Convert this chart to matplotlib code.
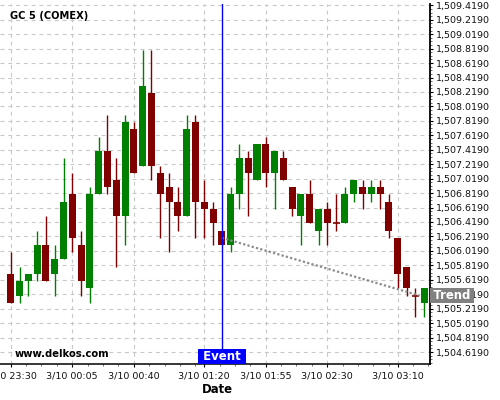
import matplotlib
matplotlib.use("Agg")
import matplotlib.pyplot as plt
import numpy as np
from matplotlib.ticker import FixedLocator, NullFormatter

# ---- data (GC 5-minute candles) ----
opens  = [1505.7, 1505.4, 1505.6, 1505.7, 1506.1, 1505.7, 1505.9, 1506.8, 1506.1, 1505.5,
          1506.8, 1507.4, 1507.0, 1506.5, 1507.7, 1507.2, 1508.2, 1507.1, 1506.9, 1506.7,
          1506.5, 1507.8, 1506.7, 1506.6, 1506.3, 1506.1, 1506.8, 1507.3, 1507.0, 1507.5,
          1507.1, 1507.3, 1506.9, 1506.5, 1506.8, 1506.3, 1506.6, 1506.4, 1506.4, 1506.8,
          1506.9, 1506.8, 1506.9, 1506.7, 1506.2, 1505.8, 1505.4, 1505.3]
highs  = [1506.0, 1505.8, 1505.7, 1506.3, 1506.5, 1506.1, 1507.3, 1507.1, 1506.3, 1506.9,
          1507.6, 1507.9, 1507.3, 1507.9, 1507.8, 1508.8, 1508.8, 1507.2, 1507.1, 1506.9,
          1507.9, 1507.9, 1507.0, 1506.7, 1506.3, 1506.9, 1507.5, 1507.4, 1507.5, 1507.6,
          1507.4, 1507.4, 1506.9, 1506.8, 1507.0, 1506.6, 1506.7, 1506.8, 1506.9, 1507.0,
          1507.0, 1507.0, 1507.0, 1506.8, 1506.2, 1505.8, 1505.5, 1505.5]
lows   = [1505.3, 1505.3, 1505.4, 1505.6, 1505.6, 1505.4, 1505.9, 1506.0, 1505.4, 1505.3,
          1506.8, 1506.8, 1505.8, 1506.1, 1507.1, 1507.2, 1507.0, 1506.2, 1506.0, 1506.3,
          1506.5, 1506.2, 1506.2, 1506.1, 1506.1, 1506.0, 1506.6, 1506.5, 1507.0, 1506.9,
          1506.6, 1507.0, 1506.5, 1506.1, 1506.4, 1506.1, 1506.1, 1506.3, 1506.4, 1506.7,
          1506.6, 1506.7, 1506.6, 1506.2, 1505.5, 1505.4, 1505.1, 1505.1]
closes = [1505.3, 1505.6, 1505.7, 1506.1, 1505.6, 1505.9, 1506.7, 1506.2, 1505.6, 1506.8,
          1507.4, 1506.9, 1506.5, 1507.8, 1507.1, 1508.3, 1507.2, 1506.8, 1506.7, 1506.5,
          1507.7, 1506.7, 1506.6, 1506.4, 1506.1, 1506.8, 1507.3, 1507.1, 1507.5, 1507.1,
          1507.4, 1507.0, 1506.6, 1506.8, 1506.4, 1506.6, 1506.4, 1506.4, 1506.8, 1507.0,
          1506.8, 1506.9, 1506.8, 1506.3, 1505.7, 1505.5, 1505.4, 1505.5]

x_tick_labels = ["3/10 23:30", "3/10 00:05", "3/10 00:40", "3/10 01:20",
                 "3/10 01:55", "3/10 02:30", "3/10 03:10"]
x_tick_minutes = [0, 35, 70, 110, 145, 180, 220]   # minutes after first candle
candle_minutes = 5

y_ticks = [1504.619, 1504.819, 1505.019, 1505.219, 1505.419, 1505.619, 1505.819,
           1506.019, 1506.219, 1506.419, 1506.619, 1506.819, 1507.019, 1507.219,
           1507.419, 1507.619, 1507.819, 1508.019, 1508.219, 1508.419, 1508.619,
           1508.819, 1509.019, 1509.219, 1509.419]

event_index = 24
trend_x = [24, 46.5]
trend_y = [1506.2, 1505.4]

# ---- styling ----
GREEN = "#008000"
RED = "#800000"
GRID = "#c8c8c8"

fig = plt.figure(figsize=(5, 4), dpi=100)
ax = fig.add_axes([0.0, 0.09, 0.86, 0.90])

x = np.arange(len(opens))
o = np.array(opens); h = np.array(highs); l = np.array(lows); c = np.array(closes)
up = c > o
cols = np.where(up, GREEN, RED)

ax.vlines(x, l, h, colors=cols, lw=1.0, zorder=3)
body_bottom = np.minimum(o, c)
body_h = np.abs(c - o)
nz = body_h > 0
ax.bar(x[nz], body_h[nz], bottom=body_bottom[nz], width=0.8, color=cols[nz],
       linewidth=0, zorder=4)
ax.hlines(o[~nz], x[~nz] - 0.4, x[~nz] + 0.4, colors=RED, lw=1.2, zorder=4)

# trend line
ax.plot(trend_x, trend_y, color="#8c8c8c", lw=1.6, linestyle=(0, (1, 1)), zorder=5)

# event line
ax.axvline(event_index, color="#0000ff", lw=1.0, zorder=6)

# axes limits
ax.set_xlim(-1.22, 47.67)
ax.set_ylim(1504.453, 1509.437)

# ticks
xt = [m / candle_minutes for m in x_tick_minutes]
ax.set_xticks(xt)
ax.set_xticklabels(x_tick_labels)
minor_x = []
for i, t in enumerate(xt):
    nxt = xt[i + 1] if i + 1 < len(xt) else 48
    k = 1
    while t + k * 1.743 < nxt - 0.4:
        minor_x.append(t + k * 1.743)
        k += 1
ax.xaxis.set_minor_locator(FixedLocator(minor_x))

ax.yaxis.tick_right()
ax.set_yticks(y_ticks)
ax.set_yticklabels([f"{v:,.4f}" for v in y_ticks])
minor_y = [v + 0.05 * k for v in y_ticks for k in (1, 2, 3)] + [y_ticks[0] - 0.05 * k for k in (1, 2, 3)]
ax.yaxis.set_minor_locator(FixedLocator(minor_y))
ax.yaxis.set_minor_formatter(NullFormatter())

ax.tick_params(axis="both", which="major", length=2.3, width=0.8, labelsize=6.8,
               color="black", labelcolor="#111111")
ax.tick_params(axis="x", which="major", pad=3.2)
ax.tick_params(axis="y", which="major", pad=2.2)
ax.tick_params(axis="both", which="minor", length=1.3, width=0.6, color="#555555")

ax.grid(True, which="major", color=GRID, lw=0.8, linestyle=(0, (3.5, 3.5)))
ax.set_axisbelow(True)

for s in ("left", "top"):
    ax.spines[s].set_visible(False)
ax.spines["right"].set_linewidth(1.3)
ax.spines["bottom"].set_linewidth(1.1)

# labels
ax.annotate(" Event ", xy=(event_index, 0), xycoords=("data", "axes fraction"),
            xytext=(0, 0.9), textcoords="offset points", ha="center", va="bottom",
            color="white", fontweight="bold", fontsize=8.5,
            bbox=dict(boxstyle="square,pad=0.1", fc="#0000ff", ec="none"),
            zorder=10, annotation_clip=False)

ax.annotate("\u2009Trend\u2009", xy=(1.0, trend_y[-1]), xycoords=("axes fraction", "data"),
            xytext=(0.9, 0), textcoords="offset points", ha="left", va="center",
            color="white", fontweight="bold", fontsize=8.4,
            bbox=dict(boxstyle="square,pad=0.1", fc="#808080", ec="none"),
            zorder=10, annotation_clip=False)

fig.text(0.02, 0.961, "GC 5 (COMEX)", fontsize=7.1, fontweight="bold", va="center", ha="left")
fig.text(0.03, 0.115, "www.delkos.com", fontsize=7.2, fontweight="bold", va="center", ha="left")
fig.text(0.434, 0.027, "Date", fontsize=8.4, fontweight="bold", va="center", ha="center")

fig.savefig("out.png", dpi=100)
